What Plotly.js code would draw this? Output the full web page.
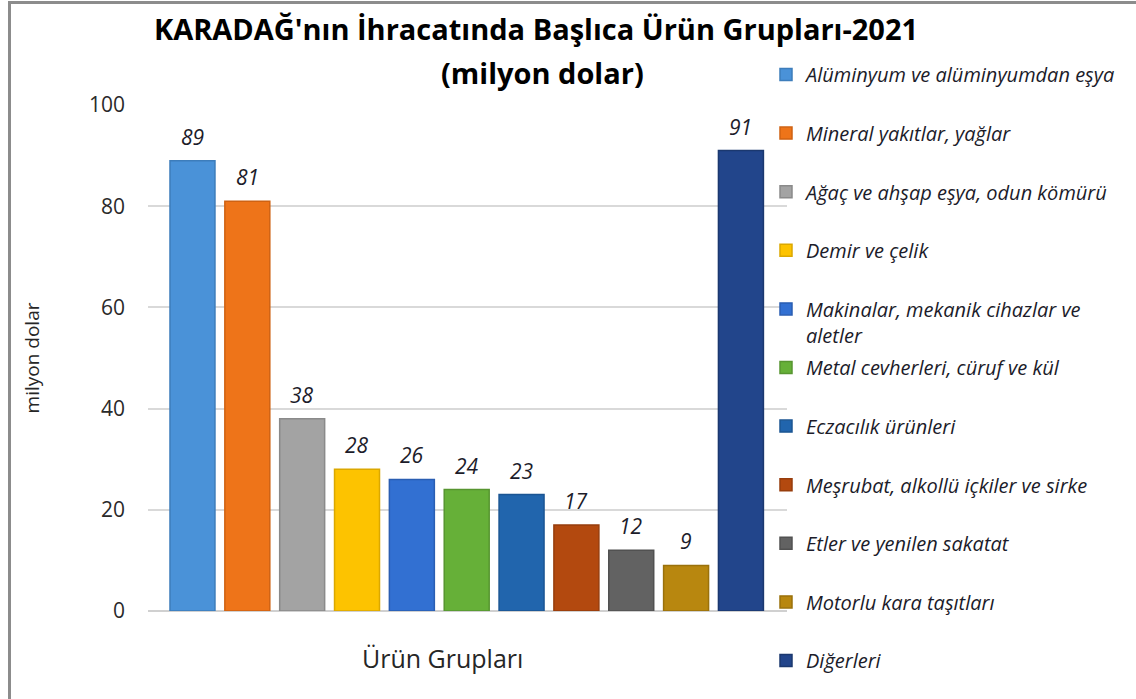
<!DOCTYPE html>
<html>
<head>
<meta charset="utf-8">
<script src="https://cdn.plot.ly/plotly-3.0.1.min.js"></script>
<style>
  html, body { margin: 0; padding: 0; background: #fff; }
  #frame { position: absolute; left: 8px; top: 1px; width: 1200px; height: 800px;
           border-left: 3px solid #8c8c8c; border-top: 3px solid #8c8c8c; pointer-events: none; }
  #chart { width: 1136px; height: 699px; }
</style>
</head>
<body>
<div id="chart"></div>
<div id="frame"></div>
<script>
const categories = [
  "Alüminyum ve alüminyumdan eşya",
  "Mineral yakıtlar, yağlar",
  "Ağaç ve ahşap eşya, odun kömürü",
  "Demir ve çelik",
  "Makinalar, mekanik cihazlar ve<br>aletler",
  "Metal cevherleri, cüruf ve kül",
  "Eczacılık ürünleri",
  "Meşrubat, alkollü içkiler ve sirke",
  "Etler ve yenilen sakatat",
  "Motorlu kara taşıtları",
  "Diğerleri"
];
const values = [89, 81, 38, 28, 26, 24, 23, 17, 12, 9, 91];
const colors = ["#4a92d8", "#ee7419", "#a3a3a3", "#fdc300", "#3270d2",
                "#66b038", "#2165ad", "#b3490f", "#626262", "#b8870f", "#22458b"];
const lineColors = ["#3d7dbb", "#cf6212", "#8a8a8a", "#dba800", "#2a5eb2",
                    "#579530", "#1b5593", "#973d0c", "#515151", "#9a710b", "#1b386f"];
const yTicks = [0, 20, 40, 60, 80, 100];
const titleLine1 = "KARADAĞ'nın İhracatında Başlıca Ürün Grupları-2021";
const titleLine2 = "(milyon dolar)";
const yTitle = "milyon dolar";
const xTitle = "Ürün Grupları";

const textColor = "#1c1c2a";
const traces = categories.map((c, i) => ({
  type: "bar",
  name: c,
  x: [c],
  y: [values[i]],
  marker: { color: colors[i], line: { color: lineColors[i], width: 1.5 } },
  legend: i < 5 ? "legend" : "legend2",
  legendgroup: "g" + i,
  hoverinfo: "name+y"
}));

const annotations = categories.map((c, i) => ({
  x: c, y: values[i], xref: "x", yref: "y",
  text: String(values[i]),
  showarrow: false, yanchor: "bottom", yshift: 8,
  font: { family: "Open Sans, sans-serif", size: 21, color: textColor, style: "italic" }
}));
annotations.push({
  text: xTitle, xref: "paper", yref: "paper",
  x: (442 - 148) / 639, y: (611 - 658) / 506, xanchor: "center", yanchor: "middle",
  showarrow: false,
  font: { family: "Open Sans, sans-serif", size: 25, color: "#262626" }
});
annotations.push({
  text: titleLine2, xref: "paper", yref: "paper",
  x: (542 - 148) / 639, y: (611 - 73) / 506, xanchor: "center", yanchor: "middle",
  showarrow: false,
  font: { family: "Open Sans, sans-serif", size: 29, color: "#000", weight: "bold" }
});

const legendFont = { family: "Open Sans, sans-serif", size: 20, color: textColor, style: "italic" };
const layout = {
  width: 1136, height: 699,
  paper_bgcolor: "#fff", plot_bgcolor: "#fff",
  margin: { l: 148, r: 349, t: 105, b: 88, autoexpand: false },
  barmode: "overlay",
  bargap: 0.18,
  showlegend: true,
  title: {
    text: titleLine1,
    x: 536 / 1136, xref: "container", xanchor: "center",
    y: 1 - 30 / 699, yref: "container", yanchor: "middle",
    font: { family: "Open Sans, sans-serif", size: 29, color: "#000", weight: "bold" }
  },
  xaxis: {
    type: "category",
    categoryorder: "array", categoryarray: categories,
    range: [-0.811, 10.84],
    showticklabels: false, ticks: "",
    showgrid: false, zeroline: false,
    showline: false, fixedrange: true
  },
  yaxis: {
    range: [0, 100], tickvals: yTicks, ticktext: yTicks.map(String),
    showgrid: true, gridcolor: "#d9d9d9", gridwidth: 1.5,
    zeroline: true, zerolinecolor: "#d0d0d0", zerolinewidth: 1.5,
    ticks: "", ticklabelstandoff: 22,
    tickfont: { family: "Open Sans, sans-serif", size: 21, color: "#2a2a2a" },
    title: { text: yTitle, standoff: 44,
             font: { family: "Open Sans, sans-serif", size: 19, color: "#262626" } },
    fixedrange: true
  },
  legend: {
    xref: "container", yref: "container",
    x: 766 / 1136, y: 1 - 55 / 699, xanchor: "left", yanchor: "top",
    tracegroupgap: 29.6, valign: "top", itemwidth: 30,
    font: legendFont, bgcolor: "rgba(0,0,0,0)", itemclick: false, itemdoubleclick: false
  },
  legend2: {
    xref: "container", yref: "container",
    x: 766 / 1136, y: 1 - 348 / 699, xanchor: "left", yanchor: "top",
    tracegroupgap: 29.6, valign: "top", itemwidth: 30,
    font: legendFont, bgcolor: "rgba(0,0,0,0)", itemclick: false, itemdoubleclick: false
  },
  annotations: annotations
};

Plotly.newPlot("chart", traces, layout, { displayModeBar: false });
</script>
</body>
</html>
